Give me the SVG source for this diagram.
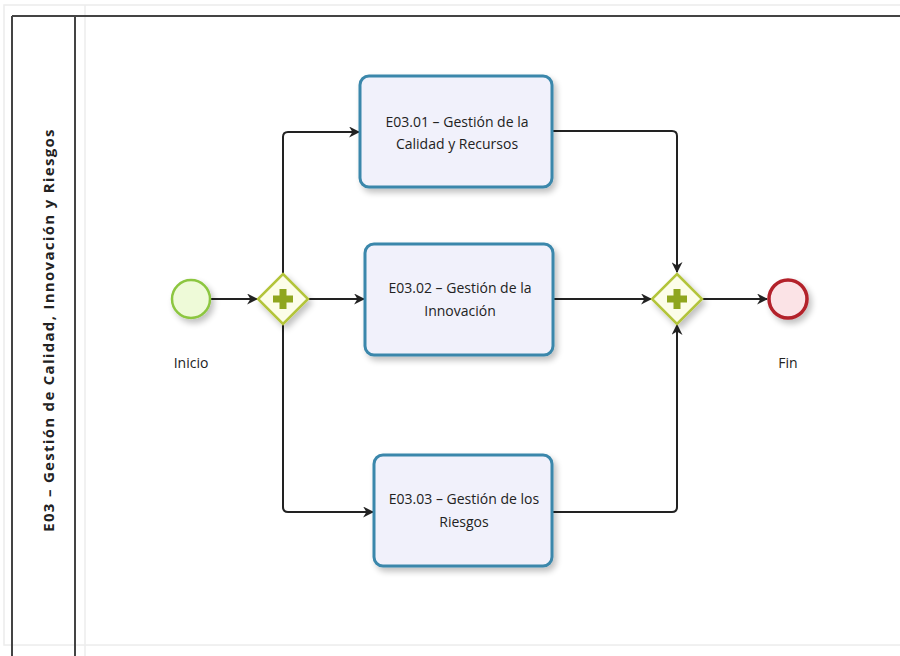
<svg xmlns="http://www.w3.org/2000/svg" width="900" height="656" viewBox="0 0 900 656">
  <defs>
    <marker id="arrow" viewBox="0 0 10 10" refX="9" refY="5" markerWidth="11" markerHeight="11" markerUnits="userSpaceOnUse" orient="auto">
      <path d="M0,0 L10,5 L0,10 L3,5 Z" fill="#222"/>
    </marker>
    <filter id="shadow" x="-20%" y="-20%" width="150%" height="150%">
      <feGaussianBlur in="SourceAlpha" stdDeviation="3"/>
      <feOffset dx="3" dy="4" result="b"/>
      <feComponentTransfer><feFuncA type="linear" slope="0.25"/></feComponentTransfer>
      <feMerge><feMergeNode/><feMergeNode in="SourceGraphic"/></feMerge>
    </filter>
  </defs>
  <style>
    .lane { fill: none; stroke: #444; stroke-width: 2; }
    .faint { fill: none; stroke: #ececec; stroke-width: 1.5; }
    .task { fill: #f1f1fb; stroke: #3a87ab; stroke-width: 3; }
    .flow { fill: none; stroke: #222; stroke-width: 2; }
    .label { font-family: "Open Sans", "Liberation Sans", sans-serif; font-size: 14px; fill: #222; text-anchor: middle; }
    .lanelabel { font-family: "Open Sans", "Liberation Sans", sans-serif; font-size: 15px; font-weight: bold; letter-spacing: 1.3px; fill: #222; text-anchor: middle; }
    .gw { fill: #fcfde8; stroke: #b3c43a; stroke-width: 2.5; }
    .plus { fill: #8fa61e; }
  </style>

  <rect width="900" height="656" fill="#ffffff"/>

  <!-- pool / lane frame -->
  <g id="pool">
    <rect class="faint" x="4" y="5" width="900" height="640"/>
    <line class="faint" x1="85" y1="5" x2="85" y2="656"/>
    <line class="lane" x1="12" y1="16" x2="900" y2="16"/>
    <line class="lane" x1="12" y1="16" x2="12" y2="656"/>
    <line class="lane" x1="75" y1="16" x2="75" y2="656"/>
    <text class="lanelabel" transform="translate(54,330) rotate(-90)">E03 – Gestión de Calidad, Innovación y Riesgos</text>
  </g>

  <!-- sequence flows -->
  <g id="connectors">
    <line class="flow" x1="211" y1="299" x2="257" y2="299" marker-end="url(#arrow)"/>
    <path class="flow" d="M283,275 V137 Q283,132 288,132 H359" marker-end="url(#arrow)"/>
    <line class="flow" x1="308" y1="299" x2="364" y2="299" marker-end="url(#arrow)"/>
    <path class="flow" d="M283,324 V507 Q283,512 288,512 H373" marker-end="url(#arrow)"/>
    <path class="flow" d="M553,131 H672 Q677,131 677,136 V272" marker-end="url(#arrow)"/>
    <line class="flow" x1="554" y1="299" x2="651" y2="299" marker-end="url(#arrow)"/>
    <path class="flow" d="M553,512 H672 Q677,512 677,507 V325" marker-end="url(#arrow)"/>
    <line class="flow" x1="702" y1="299" x2="767" y2="299" marker-end="url(#arrow)"/>
  </g>

  <!-- start event -->
  <g id="start">
    <circle cx="191" cy="299" r="19" fill="#eefad8" stroke="#8cc63f" stroke-width="2.5" filter="url(#shadow)"/>
    <text class="label" x="191" y="368">Inicio</text>
  </g>

  <!-- parallel split -->
  <g id="gateway-split">
    <polygon class="gw" points="283,274 308,299 283,324 258,299" filter="url(#shadow)"/>
    <path class="plus" d="M279.5,289 h7 v6.5 h6.5 v7 h-6.5 v6.5 h-7 v-6.5 h-6.5 v-7 h6.5 Z"/>
  </g>

  <!-- tasks -->
  <g id="task1">
    <rect class="task" x="360" y="76" width="192" height="111" rx="9" filter="url(#shadow)"/>
    <text class="label" x="457" y="127">E03.01 – Gestión de la</text>
    <text class="label" x="457" y="149">Calidad y Recursos</text>
  </g>
  <g id="task2">
    <rect class="task" x="365" y="244" width="188" height="111" rx="9" filter="url(#shadow)"/>
    <text class="label" x="460" y="293">E03.02 – Gestión de la</text>
    <text class="label" x="460" y="316">Innovación</text>
  </g>
  <g id="task3">
    <rect class="task" x="374" y="455" width="178" height="111" rx="9" filter="url(#shadow)"/>
    <text class="label" x="464" y="504">E03.03 – Gestión de los</text>
    <text class="label" x="464" y="527">Riesgos</text>
  </g>

  <!-- parallel join -->
  <g id="gateway-join">
    <polygon class="gw" points="677,274 702,299 677,324 652,299" filter="url(#shadow)"/>
    <path class="plus" d="M673.5,289 h7 v6.5 h6.5 v7 h-6.5 v6.5 h-7 v-6.5 h-6.5 v-7 h6.5 Z"/>
  </g>

  <!-- end event -->
  <g id="end">
    <circle cx="788" cy="299" r="19" fill="#fbe3e6" stroke="#b3202c" stroke-width="3.5" filter="url(#shadow)"/>
    <text class="label" x="788" y="368">Fin</text>
  </g>
</svg>
